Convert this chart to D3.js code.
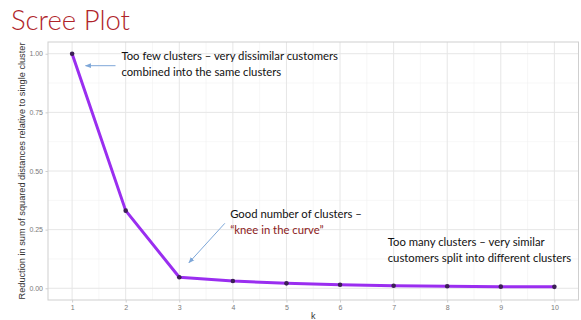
<!DOCTYPE html>
<html>
<head>
<meta charset="utf-8">
<script src="https://cdn.jsdelivr.net/npm/d3@7/dist/d3.min.js"></script>
<style>
  html, body { margin: 0; padding: 0; background: #fff; }
  svg { display: block; }
</style>
</head>
<body>
<svg id="chart" width="581" height="320"></svg>
<script>
// Number of clusters and the relative reduction in within-cluster sum of squares
const kValues = [1, 2, 3, 4, 5, 6, 7, 8, 9, 10];
const reduction = [1.0, 0.331, 0.047, 0.031, 0.021, 0.015, 0.011, 0.0085, 0.007, 0.006];
const yTicks = [0, 0.25, 0.5, 0.75, 1.0];
const yMinor = [0.125, 0.375, 0.625, 0.875];
const xMinor = [1.5, 2.5, 3.5, 4.5, 5.5, 6.5, 7.5, 8.5, 9.5];

const titleText = "Scree Plot";
const yTitle = "Reduction in sum of squared distances relative to single cluster";
const xTitle = "k";

// Annotation notes, anchored in data coordinates
const notes = [
  { k: 1.92, v: 0.972, lines: [["Too few clusters \u2013 very dissimilar customers", "#111"], ["combined into the same clusters", "#111"]] },
  { k: 3.95, v: 0.298, lines: [["Good number of clusters \u2013", "#111"], ["\u201cknee in the curve\u201d", "#8b1a1a"]] },
  { k: 6.89, v: 0.18, lines: [["Too many clusters \u2013 very similar", "#111"], ["customers split into different clusters", "#111"]] }
];
const arrows = [
  { from: [1.81, 0.949], to: [1.25, 0.949] },
  { from: [3.85, 0.277], to: [3.18, 0.109] }
];

const svg = d3.select("#chart");
const panel = { left: 48, right: 578.5, top: 42, bottom: 300 };

const x = d3.scaleLinear()
  .domain([0.55, 10.45])
  .range([panel.left, panel.right]);
const y = d3.scaleLinear()
  .domain([-0.05, 1.05])
  .range([panel.bottom, panel.top]);

// Title
svg.append("text")
  .attr("x", 11).attr("y", 30)
  .attr("font-family", "Lato, 'Open Sans', sans-serif")
  .attr("font-weight", 300)
  .attr("font-size", 27.5)
  .attr("fill", "#b0242a")
  .text(titleText);

// Panel grid
const grid = svg.append("g");
grid.selectAll("line.ymin").data(yMinor).join("line")
  .attr("x1", panel.left).attr("x2", panel.right)
  .attr("y1", d => y(d)).attr("y2", d => y(d))
  .attr("stroke", "#f2f2f2").attr("stroke-width", 0.6);
grid.selectAll("line.xmin").data(xMinor).join("line")
  .attr("y1", panel.top).attr("y2", panel.bottom)
  .attr("x1", d => x(d)).attr("x2", d => x(d))
  .attr("stroke", "#f2f2f2").attr("stroke-width", 0.6);
grid.selectAll("line.ymaj").data(yTicks).join("line")
  .attr("x1", panel.left).attr("x2", panel.right)
  .attr("y1", d => y(d)).attr("y2", d => y(d))
  .attr("stroke", "#e6e6e6").attr("stroke-width", 1);
grid.selectAll("line.xmaj").data(kValues).join("line")
  .attr("y1", panel.top).attr("y2", panel.bottom)
  .attr("x1", d => x(d)).attr("x2", d => x(d))
  .attr("stroke", "#e6e6e6").attr("stroke-width", 1);

// Panel border
svg.append("rect")
  .attr("x", panel.left).attr("y", panel.top)
  .attr("width", panel.right - panel.left).attr("height", panel.bottom - panel.top)
  .attr("fill", "none").attr("stroke", "#cfcfcf").attr("stroke-width", 1);

// Axes
const yAxis = d3.axisLeft(y).tickValues(yTicks).tickFormat(d3.format(".2f")).tickSize(2.5).tickPadding(2.5);
const xAxis = d3.axisBottom(x).tickValues(kValues).tickFormat(d3.format("d")).tickSize(2.5).tickPadding(2.5);

const gy = svg.append("g").attr("transform", `translate(${panel.left},0)`).call(yAxis);
const gx = svg.append("g").attr("transform", `translate(0,${panel.bottom})`).call(xAxis);
[gx, gy].forEach(g => {
  g.select(".domain").remove();
  g.selectAll(".tick line").attr("stroke", "#cfcfcf");
  g.selectAll(".tick text")
    .attr("fill", "#7a7a7a")
    .attr("font-family", "'Liberation Sans', Arial, sans-serif")
    .attr("font-size", 7);
});

// Axis titles
svg.append("text")
  .attr("transform", `translate(24.5,${(panel.top + panel.bottom) / 2}) rotate(-90)`)
  .attr("text-anchor", "middle")
  .attr("font-family", "'Liberation Sans', Arial, sans-serif")
  .attr("font-size", 9.2)
  .attr("fill", "#333")
  .text(yTitle);
svg.append("text")
  .attr("x", (panel.left + panel.right) / 2).attr("y", 319)
  .attr("text-anchor", "middle")
  .attr("font-family", "'Liberation Sans', Arial, sans-serif")
  .attr("font-size", 9)
  .attr("fill", "#333")
  .text(xTitle);

// Scree line and points
const line = d3.line().x((d, i) => x(kValues[i])).y(d => y(d));
svg.append("path")
  .datum(reduction)
  .attr("d", line)
  .attr("fill", "none")
  .attr("stroke", "#9a2ef0")
  .attr("stroke-width", 3)
  .attr("stroke-linejoin", "round");
svg.selectAll("circle.pt").data(reduction).join("circle")
  .attr("cx", (d, i) => x(kValues[i]))
  .attr("cy", d => y(d))
  .attr("r", 2.3)
  .attr("fill", "#3c1f55");

// Arrows
const defs = svg.append("defs");
defs.append("marker")
  .attr("id", "head")
  .attr("viewBox", "0 0 10 10")
  .attr("refX", 9).attr("refY", 5)
  .attr("markerWidth", 6).attr("markerHeight", 6)
  .attr("markerUnits", "userSpaceOnUse")
  .attr("orient", "auto")
  .append("path").attr("d", "M0,1 L10,5 L0,9 Z").attr("fill", "#7ea7d8");
svg.selectAll("line.arrow").data(arrows).join("line")
  .attr("x1", d => x(d.from[0])).attr("y1", d => y(d.from[1]))
  .attr("x2", d => x(d.to[0])).attr("y2", d => y(d.to[1]))
  .attr("stroke", "#7ea7d8").attr("stroke-width", 1)
  .attr("marker-end", "url(#head)");

// Notes
notes.forEach(n => {
  const t = svg.append("text")
    .attr("font-family", "Lato, 'Open Sans', sans-serif")
    .attr("font-size", 11.3);
  n.lines.forEach((ln, i) => {
    t.append("tspan")
      .attr("x", x(n.k))
      .attr("y", y(n.v) + i * 16)
      .attr("fill", ln[1])
      .text(ln[0]);
  });
});
</script>
</body>
</html>
